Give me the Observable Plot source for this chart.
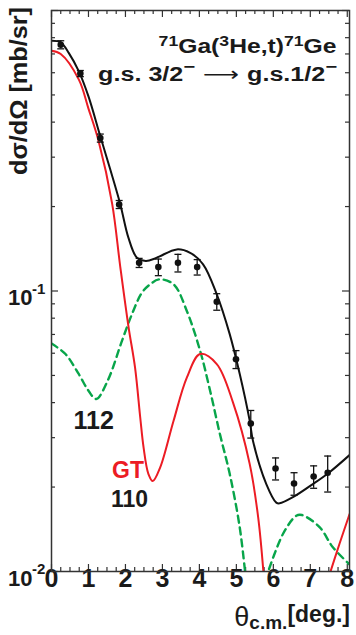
<!DOCTYPE html>
<html><head><meta charset="utf-8">
<script src="https://cdn.jsdelivr.net/npm/d3@7"></script>
<script src="https://cdn.jsdelivr.net/npm/@observablehq/plot@0.6"></script>
<style>
html,body{margin:0;padding:0;background:#fff;}
#chart{width:356px;height:635px;overflow:hidden;}
svg{display:block;}
</style></head><body><div id="chart"></div>
<script>
// measured data points
const dataTheta = [0.25, 0.78, 1.32, 1.83, 2.37, 2.89, 3.42, 3.94, 4.47, 4.99, 5.39, 6.06, 6.56, 7.09, 7.47];
const dataXs    = [0.755, 0.596, 0.351, 0.2035, 0.126, 0.1217, 0.126, 0.1217, 0.0916, 0.0571, 0.0337, 0.0233, 0.0206, 0.0218, 0.0225];
const dataErr   = [0.025, 0.015, 0.0116, 0.0067, 0.0047, 0.0083, 0.0091, 0.0077, 0.0062, 0.0042, 0.0038, 0.0021, 0.0019, 0.0020, 0.0033];

// total calculation (black)
const totalTheta = [0, 0.25, 0.47, 0.74, 1.0, 1.32, 1.59, 1.86, 2.08, 2.31, 2.55, 2.80, 2.94, 3.39, 3.75, 4.10, 4.47, 4.82, 5.09, 5.36, 5.45, 5.81, 6.08, 6.17, 6.53, 7.07, 7.52, 8.06];
const totalXs    = [0.78, 0.77, 0.705, 0.607, 0.494, 0.356, 0.271, 0.204, 0.155, 0.1315, 0.128, 0.1306, 0.1332, 0.1407, 0.1368, 0.1245, 0.0973, 0.0702, 0.0507, 0.0345, 0.0292, 0.0205, 0.0176, 0.0175, 0.0184, 0.0205, 0.0226, 0.026];

// GT component (red), two visible branches
const gtTheta = [0, 0.25, 0.74, 1.0, 1.275, 1.64, 1.86, 2.08, 2.26, 2.40, 2.49, 2.62, 2.74, 2.94, 3.30, 3.66, 4.02, 4.47, 4.91, 5.36, 5.59, 5.75, 7.47, 7.79, 8.06];
const gtXs    = [0.719, 0.70, 0.567, 0.447, 0.342, 0.205, 0.122, 0.075, 0.0533, 0.0354, 0.0277, 0.0223, 0.0210, 0.0235, 0.0344, 0.0491, 0.0596, 0.0549, 0.040, 0.0242, 0.0156, 0.0093, 0.0093, 0.01256, 0.016];
const gtSeg   = [1,1,1,1,1,1,1,1,1,1,1,1,1,1,1,1,1,1,1,1,1,1,2,2,2];

// 112 component (green dashed)
const c112Theta = [0, 0.377, 0.736, 1.0, 1.21, 1.52, 1.906, 2.175, 2.445, 2.67, 2.91, 3.30, 3.66, 4.02, 4.29, 4.555, 4.82, 5.09, 5.26, 5.78, 6.26, 6.62, 6.77, 7.25, 7.61, 8.06];
const c112Xs    = [0.065, 0.0596, 0.0506, 0.0441, 0.0412, 0.0479, 0.0664, 0.0826, 0.0986, 0.1057, 0.110, 0.1057, 0.0849, 0.0612, 0.0441, 0.0309, 0.0223, 0.0144, 0.0093, 0.0093, 0.0136, 0.0158, 0.0159, 0.0144, 0.0122, 0.0106];
const c112Seg   = [1,1,1,1,1,1,1,1,1,1,1,1,1,1,1,1,1,1,1,2,2,2,2,2,2,2];

const xTickValues = [0, 1, 2, 3, 4, 5, 6, 7, 8];
const yLabelValues = [0.01, 0.1];
const yLabelExps = ["-2", "-1"];

const W = 356, H = 635, mL = 51, mR = 7, mT = 10, mB = 64;
const plotW = W - mL - mR, plotH = H - mT - mB;

const pts = dataTheta.map((x, i) => ({x, y: dataXs[i], lo: dataXs[i] - dataErr[i], hi: dataXs[i] + dataErr[i]}));
const total = totalTheta.map((x, i) => ({x, y: totalXs[i]}));
const gt = gtTheta.map((x, i) => ({x, y: gtXs[i], s: gtSeg[i]}));
const c112 = c112Theta.map((x, i) => ({x, y: c112Xs[i], s: c112Seg[i]}));

const xMinor = d3.range(0, 8.01, 0.25).filter(v => Math.abs(v - Math.round(v)) > 1e-6);
const xMajor = xTickValues;
const yMajor = [0.01, 0.1, 1];
const yMinor = [];
for (const dec of [0.01, 0.1]) for (let k = 2; k <= 9; k++) yMinor.push(dec * k);

const capSymbol = {draw(ctx, size) { const w = Math.sqrt(size / Math.PI); ctx.moveTo(-w, 0); ctx.lineTo(w, 0); }};

const axisColor = "#333";
const ink = "#1a1a1a";
const chart = Plot.plot({
  width: W, height: H,
  marginLeft: mL, marginRight: mR, marginTop: mT, marginBottom: mB,
  style: {fontFamily: "'Liberation Sans', Arial, sans-serif", background: "#fff"},
  x: {domain: [0, 8.06], axis: null},
  y: {type: "log", domain: [0.01, 1], axis: null},
  marks: [
    // ticks (inward) on all four sides
    Plot.tickX(xMinor, {x: d => d, insetTop: plotH - 4, stroke: axisColor, strokeWidth: 1.2}),
    Plot.tickX(xMajor, {x: d => d, insetTop: plotH - 7, stroke: axisColor, strokeWidth: 1.2}),
    Plot.tickX(xMinor, {x: d => d, insetBottom: plotH - 4, stroke: axisColor, strokeWidth: 1.2}),
    Plot.tickX(xMajor, {x: d => d, insetBottom: plotH - 7, stroke: axisColor, strokeWidth: 1.2}),
    Plot.tickY(yMinor, {y: d => d, insetRight: plotW - 4, stroke: axisColor, strokeWidth: 1.2}),
    Plot.tickY(yMajor, {y: d => d, insetRight: plotW - 7, stroke: axisColor, strokeWidth: 1.2}),
    Plot.tickY(yMinor, {y: d => d, insetLeft: plotW - 4, stroke: axisColor, strokeWidth: 1.2}),
    Plot.tickY(yMajor, {y: d => d, insetLeft: plotW - 7, stroke: axisColor, strokeWidth: 1.2}),
    // x tick labels
    Plot.text(xTickValues, {x: d => d, text: d => String(d), frameAnchor: "bottom", dy: 15, fontSize: 25, fontWeight: "bold", fill: ink}),
    // y tick labels: "10" + superscript exponent
    Plot.text(yLabelValues, {y: d => d, text: () => "10", frameAnchor: "left", textAnchor: "end", dx: -19, dy: 7, fontSize: 22, fontWeight: "bold", fill: ink}),
    Plot.text(yLabelValues, {y: d => d, text: (d, i) => yLabelExps[i], frameAnchor: "left", textAnchor: "start", dx: -19.5, dy: -2, fontSize: 15, fontWeight: "bold", fill: ink}),
    // curves
    Plot.line(c112, {x: "x", y: "y", z: "s", curve: "catmull-rom", stroke: "#08a54a", strokeWidth: 2.4, strokeDasharray: "7,5", clip: true}),
    Plot.line(gt, {x: "x", y: "y", z: "s", curve: "catmull-rom", stroke: "#ec1c24", strokeWidth: 2, clip: true}),
    Plot.line(total, {x: "x", y: "y", curve: "catmull-rom", stroke: "#111", strokeWidth: 2, clip: true}),
    // data with error bars
    Plot.ruleX(pts, {x: "x", y1: "lo", y2: "hi", stroke: "#111", strokeWidth: 1.3}),
    Plot.dot(pts, {x: "x", y: "lo", symbol: capSymbol, r: 3.5, stroke: "#111", strokeWidth: 1.3}),
    Plot.dot(pts, {x: "x", y: "hi", symbol: capSymbol, r: 3.5, stroke: "#111", strokeWidth: 1.3}),
    Plot.dot(pts, {x: "x", y: "y", r: 3.3, fill: "#111"}),
    // component labels
    Plot.text(["112"], {x: 1.14, y: 0.0345, text: d => d, fontSize: 25, fontWeight: "bold", fill: ink}),
    Plot.text(["GT"], {x: 2.07, y: 0.0228, text: d => d, fontSize: 23, fontWeight: "bold", fill: "#ec1c24"}),
    Plot.text(["110"], {x: 2.11, y: 0.0180, text: d => d, fontSize: 23, fontWeight: "bold", fill: ink}),
    Plot.frame({stroke: axisColor, strokeWidth: 1.5})
  ]
});
document.getElementById("chart").appendChild(chart);

const svg = d3.select(chart);
svg.attr("overflow", "visible");
const FONT = "'Liberation Sans', Arial, sans-serif";

function fitText(sel, xAnchor, baseline, targetWidth, rotate) {
  const w = sel.node().getBBox().width || targetWidth;
  const s = targetWidth / w;
  sel.attr("transform", `translate(${xAnchor},${baseline})` + (rotate ? ` rotate(${rotate})` : "") + ` scale(${s},1)`);
}

// Title line 1: 71Ga(3He,t)71Ge
const t1 = svg.append("text").attr("font-family", FONT).attr("font-weight", "bold").attr("font-size", 21).attr("text-anchor", "end").attr("fill", ink);
t1.append("tspan").attr("font-size", 15).attr("dy", -6.5).text("71");
t1.append("tspan").attr("dy", 6.5).text("Ga(");
t1.append("tspan").attr("font-size", 15).attr("dy", -6.5).text("3");
t1.append("tspan").attr("dy", 6.5).text("He,t)");
t1.append("tspan").attr("font-size", 15).attr("dy", -6.5).text("71");
t1.append("tspan").attr("dy", 6.5).text("Ge");
fitText(t1, 336.5, 52.5, 178);

// Title line 2: g.s. 3/2- -> g.s. 1/2-
const t2 = svg.append("text").attr("font-family", FONT).attr("font-weight", "bold").attr("font-size", 20).attr("text-anchor", "end").attr("fill", ink);
t2.append("tspan").text("g.s. 3/2");
t2.append("tspan").attr("font-size", 16).attr("dy", -8.5).text("\u2212");
t2.append("tspan").attr("dy", 8.5).attr("font-family", "'DejaVu Sans', sans-serif").attr("font-weight", "normal").text(" \u27F6 ");
t2.append("tspan").text("g.s.1/2");
t2.append("tspan").attr("font-size", 16).attr("dy", -8.5).text("\u2212");
fitText(t2, 337, 80.5, 239);

// y-axis title
const yl = svg.append("text").attr("font-family", FONT).attr("font-weight", "bold").attr("font-size", 23).attr("text-anchor", "middle").attr("fill", ink)
  .text("d\u03C3/d\u03A9 [mb/sr]");
fitText(yl, 27, 91, 168, -90);

// x-axis title
const xl = svg.append("text").attr("font-family", FONT).attr("font-weight", "bold").attr("text-anchor", "end").attr("fill", ink).attr("x", 350).attr("y", 621.5);
xl.append("tspan").attr("font-weight", "normal").attr("font-size", 27).attr("dy", 4).text("\u03B8");
xl.append("tspan").attr("font-size", 19).attr("dy", 3).text("c.m.");
xl.append("tspan").attr("font-size", 23).attr("dy", -7).text("[deg.]");
</script>
</body></html>
